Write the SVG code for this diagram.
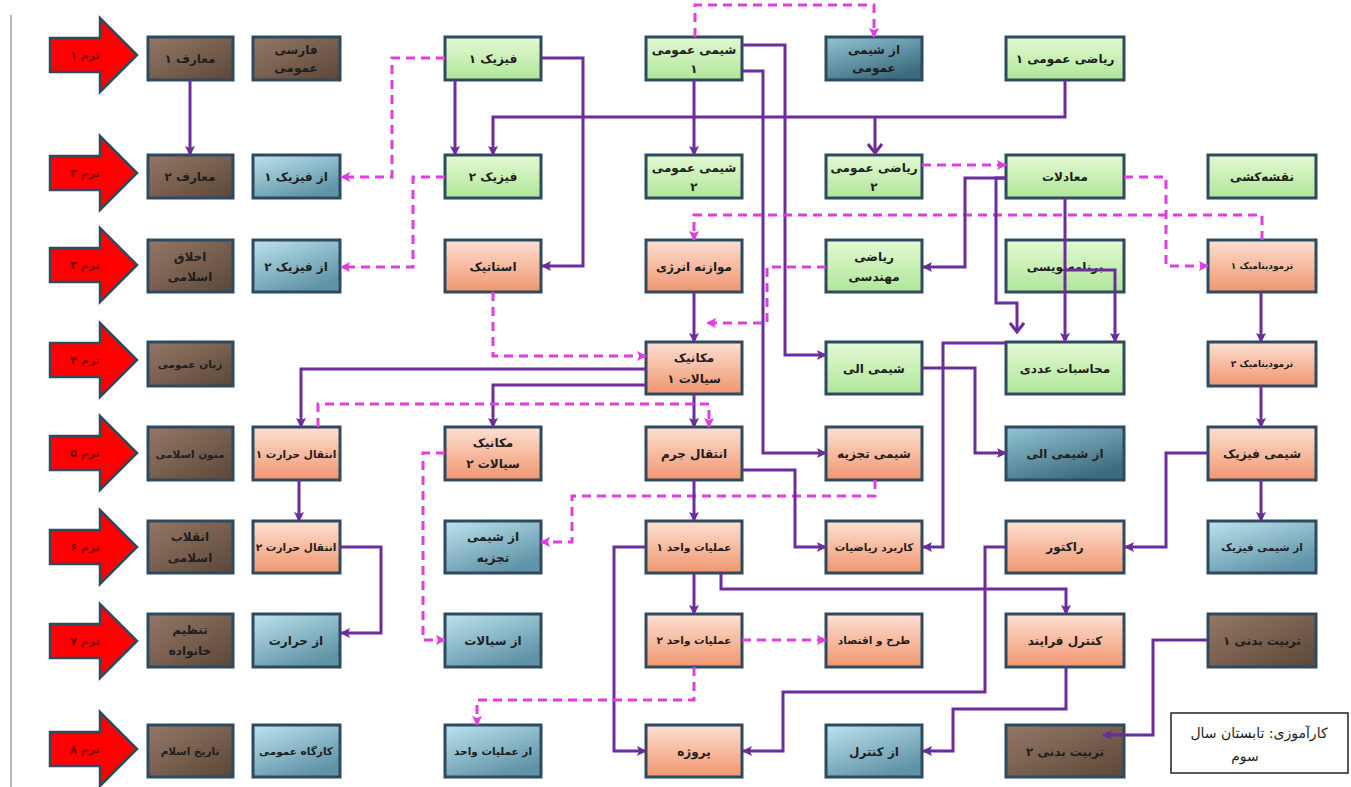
<svg xmlns="http://www.w3.org/2000/svg" width="1351" height="787" viewBox="0 0 1351 787">
<defs>
<linearGradient id="gBrown" x1="0" y1="0" x2="1" y2="1"><stop offset="0" stop-color="#957866"/><stop offset="1" stop-color="#5c4738"/></linearGradient>
<linearGradient id="gGreen" x1="0" y1="0" x2="0" y2="1"><stop offset="0" stop-color="#e3f9d3"/><stop offset="1" stop-color="#b0e699"/></linearGradient>
<linearGradient id="gSalmon" x1="0" y1="0" x2="0" y2="1"><stop offset="0" stop-color="#fde0d2"/><stop offset="1" stop-color="#f0966f"/></linearGradient>
<linearGradient id="gBlue" x1="0" y1="0" x2="0.6" y2="1"><stop offset="0" stop-color="#bde3ee"/><stop offset="1" stop-color="#5f93a6"/></linearGradient>
<linearGradient id="gBlueDark" x1="0" y1="0" x2="0.6" y2="1"><stop offset="0" stop-color="#93c5d4"/><stop offset="1" stop-color="#3c6b7e"/></linearGradient>
<marker id="ap" viewBox="0 0 10 10" refX="9" refY="5" markerWidth="10" markerHeight="10" markerUnits="userSpaceOnUse" orient="auto"><path d="M0,0 L10,5 L0,10 L2,5 z" fill="#6b2d9b"/></marker>
<marker id="am" viewBox="0 0 10 10" refX="9" refY="5" markerWidth="10" markerHeight="10" markerUnits="userSpaceOnUse" orient="auto"><path d="M0,0 L10,5 L0,10 L2,5 z" fill="#e03ee0"/></marker>
<marker id="av" viewBox="0 0 12 16" refX="10" refY="8" markerWidth="12" markerHeight="16" markerUnits="userSpaceOnUse" orient="auto"><path d="M1,1 L10,8 L1,15" fill="none" stroke="#6b2d9b" stroke-width="3"/></marker>
</defs>
<style>
.box{stroke:#2d4a61;stroke-width:3}
.brown{fill:url(#gBrown)}
.green{fill:url(#gGreen)}
.salmon{fill:url(#gSalmon)}
.blue{fill:url(#gBlue)}
.bdark{fill:url(#gBlueDark)}
text{font-family:"DejaVu Sans","Noto Sans",sans-serif;font-size:12px;font-weight:bold;fill:#1e1e1e;text-anchor:middle;direction:rtl}
.s11{font-size:10.5px}
.small{font-size:9px}
.term{font-size:11px;fill:#7a0000}
.note{font-size:14px;font-weight:normal}
.arrow{fill:#ff0000;stroke:#2d4a61;stroke-width:2.5}
.p{fill:none;stroke:#6b2d9b;stroke-width:3;marker-end:url(#ap)}
.pn{fill:none;stroke:#6b2d9b;stroke-width:3}
.d{fill:none;stroke:#e03ee0;stroke-width:3;stroke-dasharray:9 6;marker-end:url(#am)}
</style>
<rect x="0" y="0" width="1351" height="787" fill="#ffffff"/>
<line x1="11" y1="15" x2="11" y2="787" stroke="#a0a0a0" stroke-width="1.5"/>

<g id="terms">
<g id="term1"><polygon class="arrow" points="50,38 100,38 100,18 137,55 100,92 100,72 50,72"/><text class="term" x="85" y="59">ترم ۱</text></g>
<g id="term2"><polygon class="arrow" points="50,156 100,156 100,136 137,173 100,210 100,190 50,190"/><text class="term" x="85" y="177">ترم ۲</text></g>
<g id="term3"><polygon class="arrow" points="50,248 100,248 100,228 137,265 100,302 100,282 50,282"/><text class="term" x="85" y="269">ترم ۳</text></g>
<g id="term4"><polygon class="arrow" points="50,343 100,343 100,323 137,360 100,397 100,377 50,377"/><text class="term" x="85" y="364">ترم ۴</text></g>
<g id="term5"><polygon class="arrow" points="50,436 100,436 100,416 137,453 100,490 100,470 50,470"/><text class="term" x="85" y="457">ترم ۵</text></g>
<g id="term6"><polygon class="arrow" points="50,530 100,530 100,510 137,547 100,584 100,564 50,564"/><text class="term" x="85" y="551">ترم ۶</text></g>
<g id="term7"><polygon class="arrow" points="50,624 100,624 100,604 137,641 100,678 100,658 50,658"/><text class="term" x="85" y="645">ترم ۷</text></g>
<g id="term8"><polygon class="arrow" points="50,732 100,732 100,712 137,749 100,786 100,766 50,766"/><text class="term" x="85" y="753">ترم ۸</text></g>
</g>

<g id="nodes">
<g id="maaref1"><rect class="box brown" x="148" y="37" width="85" height="43"/><text x="190" y="63">معارف ۱</text></g>
<g id="farsi"><rect class="box brown" x="253" y="37" width="87" height="43"/><text x="296" y="54">فارسی</text><text x="296" y="72">عمومی</text></g>
<g id="physics1"><rect class="box green" x="445" y="37" width="96" height="43"/><text x="493" y="63">فیزیک ۱</text></g>
<g id="chem1"><rect class="box green" x="646" y="37" width="96" height="43"/><text x="694" y="54">شیمی عمومی</text><text x="694" y="73">۱</text></g>
<g id="labchem"><rect class="box bdark" x="826" y="37" width="96" height="43"/><text x="874" y="54">از شیمی</text><text x="874" y="72">عمومی</text></g>
<g id="math1"><rect class="box green" x="1006" y="37" width="118" height="43"/><text x="1065" y="63">ریاضی عمومی ۱</text></g>
<g id="maaref2"><rect class="box brown" x="148" y="155" width="85" height="43"/><text x="190" y="181">معارف ۲</text></g>
<g id="labphys1"><rect class="box blue" x="253" y="155" width="87" height="43"/><text x="296" y="181">از فیزیک ۱</text></g>
<g id="physics2"><rect class="box green" x="445" y="155" width="96" height="43"/><text x="493" y="181">فیزیک ۲</text></g>
<g id="chem2"><rect class="box green" x="646" y="155" width="96" height="43"/><text x="694" y="172">شیمی عمومی</text><text x="694" y="191">۲</text></g>
<g id="math2"><rect class="box green" x="826" y="155" width="96" height="43"/><text x="874" y="172">ریاضی عمومی</text><text x="874" y="191">۲</text></g>
<g id="equations"><rect class="box green" x="1006" y="155" width="118" height="43"/><text x="1065" y="181">معادلات</text></g>
<g id="drawing"><rect class="box green" x="1208" y="155" width="108" height="43"/><text x="1262" y="181">نقشه‌کشی</text></g>
<g id="akhlagh"><rect class="box brown" x="148" y="240" width="85" height="52"/><text x="190" y="261">اخلاق</text><text x="190" y="281">اسلامی</text></g>
<g id="labphys2"><rect class="box blue" x="253" y="240" width="87" height="52"/><text x="296" y="271">از فیزیک ۲</text></g>
<g id="statics"><rect class="box salmon" x="445" y="240" width="96" height="52"/><text x="493" y="271">استاتیک</text></g>
<g id="balance"><rect class="box salmon" x="646" y="240" width="96" height="52"/><text x="694" y="271">موازنه انرژی</text></g>
<g id="engmath"><rect class="box green" x="826" y="240" width="96" height="52"/><text x="874" y="261">ریاضی</text><text x="874" y="281">مهندسی</text></g>
<g id="programming"><rect class="box green" x="1006" y="240" width="118" height="52"/><text x="1065" y="271">برنامه‌نویسی</text></g>
<g id="thermo1"><rect class="box salmon" x="1208" y="240" width="108" height="52"/><text class="small" x="1262" y="269">ترمودینامیک ۱</text></g>
<g id="language"><rect class="box brown" x="148" y="342" width="85" height="44"/><text class="s11" x="190" y="368">زبان عمومی</text></g>
<g id="fluid1"><rect class="box salmon" x="646" y="342" width="96" height="52"/><text x="694" y="362">مکانیک</text><text x="694" y="383">سیالات ۱</text></g>
<g id="organic"><rect class="box green" x="826" y="342" width="96" height="52"/><text x="874" y="373">شیمی الی</text></g>
<g id="numerical"><rect class="box green" x="1006" y="342" width="118" height="52"/><text x="1065" y="373">محاسبات عددی</text></g>
<g id="thermo2"><rect class="box salmon" x="1208" y="342" width="108" height="44"/><text class="small" x="1262" y="367">ترمودینامیک ۲</text></g>
<g id="motoon"><rect class="box brown" x="148" y="427" width="85" height="53"/><text class="s11" x="190" y="458">متون اسلامی</text></g>
<g id="heat1"><rect class="box salmon" x="253" y="427" width="87" height="53"/><text class="s11" x="296" y="458">انتقال حرارت ۱</text></g>
<g id="fluid2"><rect class="box salmon" x="445" y="427" width="96" height="53"/><text x="493" y="447">مکانیک</text><text x="493" y="468">سیالات ۲</text></g>
<g id="masstransfer"><rect class="box salmon" x="646" y="427" width="96" height="53"/><text x="694" y="458">انتقال جرم</text></g>
<g id="analytical"><rect class="box salmon" x="826" y="427" width="96" height="53"/><text x="874" y="458">شیمی تجزیه</text></g>
<g id="laborganic"><rect class="box bdark" x="1006" y="427" width="118" height="53"/><text x="1065" y="458">از شیمی الی</text></g>
<g id="physchem"><rect class="box salmon" x="1208" y="427" width="108" height="53"/><text x="1262" y="458">شیمی فیزیک</text></g>
<g id="enghelab"><rect class="box brown" x="148" y="521" width="85" height="52"/><text x="190" y="541">انقلاب</text><text x="190" y="562">اسلامی</text></g>
<g id="heat2"><rect class="box salmon" x="253" y="521" width="87" height="52"/><text class="s11" x="296" y="551">انتقال حرارت ۲</text></g>
<g id="labanalytical"><rect class="box blue" x="445" y="521" width="96" height="52"/><text x="493" y="541">از شیمی</text><text x="493" y="562">تجزیه</text></g>
<g id="unitop1"><rect class="box salmon" x="646" y="521" width="96" height="52"/><text class="s11" x="694" y="551">عملیات واحد ۱</text></g>
<g id="appmath"><rect class="box salmon" x="826" y="521" width="96" height="52"/><text class="s11" x="874" y="551">کاربرد ریاضیات</text></g>
<g id="reactor"><rect class="box salmon" x="1006" y="521" width="118" height="52"/><text x="1065" y="551">راکتور</text></g>
<g id="labphyschem"><rect class="box blue" x="1208" y="521" width="108" height="52"/><text class="s11" x="1262" y="551">از شیمی فیزیک</text></g>
<g id="family"><rect class="box brown" x="148" y="614" width="85" height="53"/><text x="190" y="634">تنظیم</text><text x="190" y="655">خانواده</text></g>
<g id="labheat"><rect class="box blue" x="253" y="614" width="87" height="53"/><text x="296" y="645">از حرارت</text></g>
<g id="labfluid"><rect class="box blue" x="445" y="614" width="96" height="53"/><text x="493" y="645">از سیالات</text></g>
<g id="unitop2"><rect class="box salmon" x="646" y="614" width="96" height="53"/><text class="s11" x="694" y="644">عملیات واحد ۲</text></g>
<g id="design"><rect class="box salmon" x="826" y="614" width="96" height="53"/><text class="s11" x="874" y="644">طرح و اقتصاد</text></g>
<g id="control"><rect class="box salmon" x="1006" y="614" width="118" height="53"/><text x="1065" y="645">کنترل فرایند</text></g>
<g id="pe1"><rect class="box brown" x="1208" y="614" width="108" height="53"/><text x="1262" y="645">تربیت بدنی ۱</text></g>
<g id="history"><rect class="box brown" x="148" y="725" width="85" height="52"/><text class="s11" x="190" y="755">تاریخ اسلام</text></g>
<g id="workshop"><rect class="box blue" x="253" y="725" width="87" height="52"/><text class="s11" x="296" y="755">کارگاه عمومی</text></g>
<g id="labunitop"><rect class="box blue" x="445" y="725" width="96" height="52"/><text class="s11" x="493" y="755">از عملیات واحد</text></g>
<g id="project"><rect class="box salmon" x="646" y="725" width="96" height="52"/><text x="694" y="756">پروژه</text></g>
<g id="labcontrol"><rect class="box blue" x="826" y="725" width="96" height="52"/><text x="874" y="756">از کنترل</text></g>
<g id="pe2"><rect class="box brown" x="1006" y="725" width="118" height="52"/><text x="1065" y="756">تربیت بدنی ۲</text></g>
<g id="note"><rect x="1171" y="713" width="177" height="60" fill="#ffffff" stroke="#222" stroke-width="1.5"/><text class="note" x="1259" y="738">کارآموزی: تابستان سال</text><text class="note" x="1245" y="761">سوم</text></g>
</g>

<g id="connectors">
<path class="p" d="M190,80 V155"/>
<path class="d" d="M445,58 H392 V177 H341"/>
<path class="d" d="M445,177 H413 V267 H341"/>
<path class="p" d="M455,80 V155"/>
<path class="p" d="M1065,80 V117 H493 V155"/>
<path class="pn" d="M875,117 V153" style="marker-end:url(#av)"/>
<path class="p" d="M541,58 H583 V266 H542"/>
<path class="p" d="M694,80 V155"/>
<path class="d" d="M695,37 V5 H874 V37"/>
<path class="p" d="M742,45 H785 V355 H826"/>
<path class="p" d="M742,71 H763 V453 H826"/>
<path class="d" d="M1262,240 V215 H694 V240"/>
<path class="d" d="M922,165 H1006"/>
<path class="d" d="M1124,177 H1166 V266 H1208"/>
<path class="p" d="M1065,198 V342"/>
<path class="p" d="M1065,270 H1115 V342"/>
<path class="p" d="M1006,178 H965 V267 H923"/>
<path class="pn" d="M1006,178 H996 V303 H1017 V332" style="marker-end:url(#av)"/>
<path class="d" d="M826,267 H767 V323 H707"/>
<path class="p" d="M694,292 V342"/>
<path class="d" d="M493,292 V356 H646"/>
<path class="p" d="M646,369 H301 V427"/>
<path class="p" d="M646,385 H493 V427"/>
<path class="p" d="M694,394 V427"/>
<path class="d" d="M318,427 V404 H709 V427"/>
<path class="d" d="M445,453 H423 V640 H445"/>
<path class="p" d="M299,480 V521"/>
<path class="p" d="M340,547 H381 V633 H341"/>
<path class="d" d="M875,480 V496 H572 V542 H541"/>
<path class="p" d="M694,480 V521"/>
<path class="p" d="M742,470 H795 V547 H826"/>
<path class="p" d="M1006,343 H943 V547 H923"/>
<path class="p" d="M922,368 H975 V453 H1006"/>
<path class="p" d="M1261,292 V342"/>
<path class="p" d="M1261,386 V427"/>
<path class="p" d="M1261,480 V521"/>
<path class="p" d="M1208,453 H1166 V547 H1125"/>
<path class="p" d="M1006,547 H985 V692 H783 V751 H743"/>
<path class="p" d="M646,547 H614 V751 H646"/>
<path class="p" d="M694,573 V614"/>
<path class="p" d="M721,573 V589 H1066 V614"/>
<path class="d" d="M742,640 H826"/>
<path class="d" d="M694,667 V700 H477 V725"/>
<path class="p" d="M1066,667 V709 H953 V751 H923"/>
<path class="p" d="M1208,640 H1153 V735 H1103"/>
</g>
</svg>
